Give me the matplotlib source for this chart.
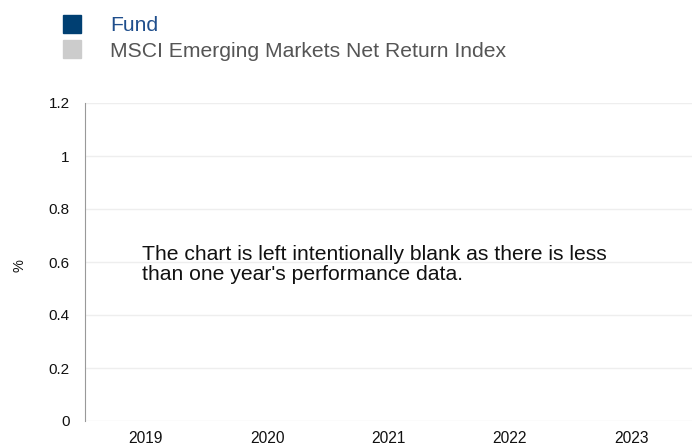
import matplotlib.pyplot as plt
from matplotlib.lines import Line2D

plt.rcParams["font.family"] = ["Liberation Sans", "DejaVu Sans"]

years = ["2019", "2020", "2021", "2022", "2023"]
y_ticks = [0, 0.2, 0.4, 0.6, 0.8, 1.0, 1.2]
y_tick_labels = ["0", "0.2", "0.4", "0.6", "0.8", "1", "1.2"]
series_names = ["Fund", "MSCI Emerging Markets Net Return Index"]
series_colors = ["#003f72", "#cccccc"]
label_colors = ["#1f4e8c", "#555555"]
note = "The chart is left intentionally blank as there is less\nthan one year's performance data."

fig = plt.figure(figsize=(6.92, 4.46), dpi=100)
ax = fig.add_axes([85 / 692, 25 / 446, 607 / 692, 318 / 446])

ax.set_xlim(-0.5, len(years) - 0.5)
ax.set_ylim(0, 1.2)
ax.set_xticks(range(len(years)))
ax.set_xticklabels(years, fontsize=11.2, color="#111111")
ax.set_yticks(y_ticks)
ax.set_yticklabels(y_tick_labels, fontsize=11, color="#111111")
ax.tick_params(length=0)
ax.tick_params(axis="y", pad=11)
ax.tick_params(axis="x", pad=7.5)
ax.grid(axis="y", color="#eeeeee", linewidth=1)
ax.set_axisbelow(True)
for side in ["top", "right", "bottom"]:
    ax.spines[side].set_visible(False)
ax.spines["left"].set_color("#999999")
ax.set_ylabel("%", fontsize=10.5, color="#111111")
ax.yaxis.set_label_coords(-0.097, 0.49)

ax.text(-0.03, 0.59, note, fontsize=15.2, va="center", ha="left", color="#111111",
        linespacing=1.1)

handles = [Line2D([], [], linestyle="none", marker="s", markersize=13,
                  color=c) for c in series_colors]
leg = fig.legend(handles, series_names, loc="upper left",
                 bbox_to_anchor=(53 / 692, 1 - 8 / 446),
                 frameon=False, fontsize=15.2, handlelength=1.0, handletextpad=1.3,
                 labelspacing=0.3, borderaxespad=0, borderpad=0.4)
for t, c in zip(leg.get_texts(), label_colors):
    t.set_color(c)

fig.savefig("out.png", dpi=100)
